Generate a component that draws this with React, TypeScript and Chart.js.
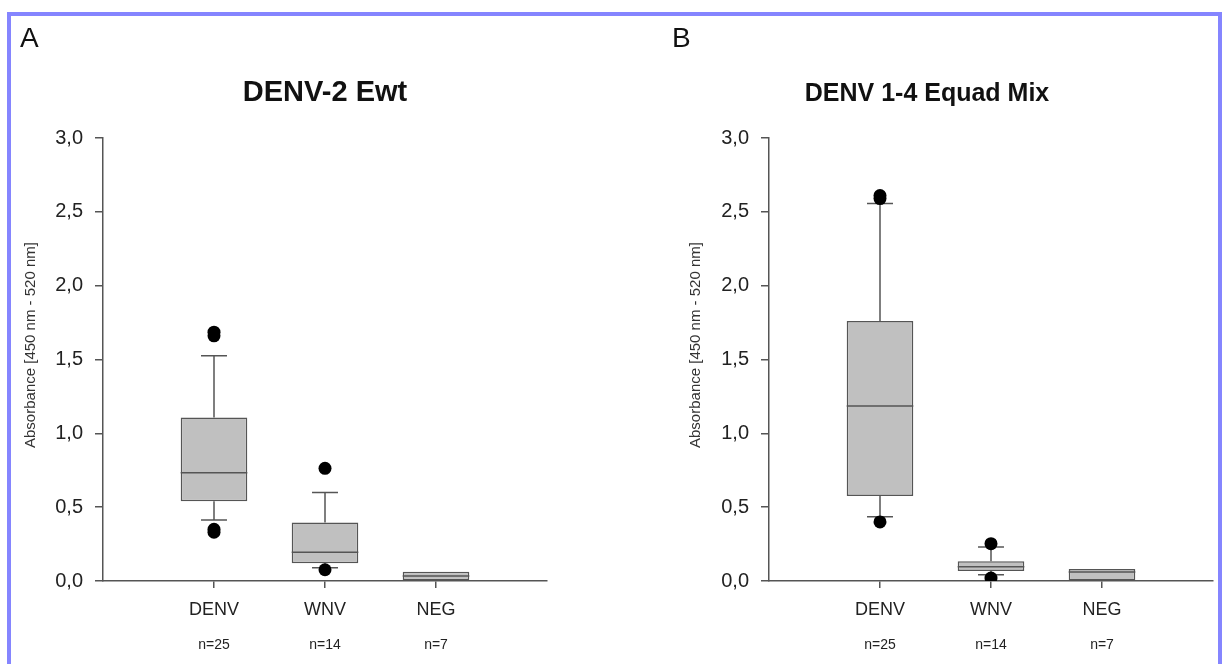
import React, { useEffect, useRef } from "react";
import { Chart, registerables } from "chart.js";

Chart.register(...registerables);

// ---------- shared ----------
const categories = ["DENV", "WNV", "NEG"];
const sampleSizes = ["n=25", "n=14", "n=7"];
const yAxisTitle = "Absorbance [450 nm - 520 nm]";
const yMin = 0;
const yMax = 3;
const yStep = 0.5;

// ---------- panel A ----------
const aLetter = "A";
const aTitle = "DENV-2 Ewt";
const aQ1 = [0.54, 0.12, 0.005];
const aMedian = [0.733, 0.194, 0.034];
const aQ3 = [1.108, 0.397, 0.063];
const aWhiskerLow = [0.413, 0.09, null];
const aWhiskerHigh = [1.525, 0.6, null];
const aOutliers = [[1.66, 1.685, 0.33, 0.35], [0.763, 0.076], []];

// ---------- panel B ----------
const bLetter = "B";
const bTitle = "DENV 1-4 Equad Mix";
const bQ1 = [0.575, 0.068, 0.003];
const bMedian = [1.185, 0.097, 0.061];
const bQ3 = [1.76, 0.133, 0.081];
const bWhiskerLow = [0.435, 0.043, null];
const bWhiskerHigh = [2.557, 0.23, null];
const bOutliers = [[2.59, 2.61, 0.4], [0.253, 0.02], []];

const FONT = "'Liberation Sans', Arial, sans-serif";
const LINE = "#555555";
const TEXT = "#222222";

type Panel = {
  letter: string;
  title: string;
  q1: number[];
  median: number[];
  q3: number[];
  wLow: (number | null)[];
  wHigh: (number | null)[];
  outliers: number[][];
  padLeft: number;
  padRight: number;
  letterX: number;
  titleX: number;
  titleSize: number;
  yTitleX: number;
};

const panels: Panel[] = [
  {
    letter: aLetter, title: aTitle, q1: aQ1, median: aMedian, q3: aQ3,
    wLow: aWhiskerLow, wHigh: aWhiskerHigh, outliers: aOutliers,
    padLeft: 23, padRight: 678, letterX: 20, titleX: 325, titleSize: 29, yTitleX: 31,
  },
  {
    letter: bLetter, title: bTitle, q1: bQ1, median: bMedian, q3: bQ3,
    wLow: bWhiskerLow, wHigh: bWhiskerHigh, outliers: bOutliers,
    padLeft: 689, padRight: 12, letterX: 672, titleX: 927, titleSize: 25, yTitleX: 696,
  },
];

const BOX_HALF = 0.3;
const CAP_HALF = 0.117;

function makePlugin(p: Panel) {
  return {
    id: "boxExtras",
    beforeDatasetsDraw(chart: any) {
      const { ctx } = chart;
      const x = chart.scales.x;
      const y = chart.scales.y;
      ctx.save();
      ctx.strokeStyle = LINE;
      ctx.lineWidth = 1.5;
      p.q1.forEach((q1, i) => {
        const cx = x.getPixelForValue(i + 1);
        const cl = x.getPixelForValue(i + 1 - CAP_HALF);
        const cr = x.getPixelForValue(i + 1 + CAP_HALF);
        const hi = p.wHigh[i];
        const lo = p.wLow[i];
        if (hi != null) {
          ctx.beginPath();
          ctx.moveTo(cx, y.getPixelForValue(p.q3[i]));
          ctx.lineTo(cx, y.getPixelForValue(hi));
          ctx.moveTo(cl, y.getPixelForValue(hi));
          ctx.lineTo(cr, y.getPixelForValue(hi));
          ctx.stroke();
        }
        if (lo != null) {
          ctx.beginPath();
          ctx.moveTo(cx, y.getPixelForValue(q1));
          ctx.lineTo(cx, y.getPixelForValue(lo));
          ctx.moveTo(cl, y.getPixelForValue(lo));
          ctx.lineTo(cr, y.getPixelForValue(lo));
          ctx.stroke();
        }
      });
      ctx.restore();
    },
    afterDatasetsDraw(chart: any) {
      const { ctx } = chart;
      const x = chart.scales.x;
      const y = chart.scales.y;
      ctx.save();
      ctx.strokeStyle = LINE;
      ctx.lineWidth = 1.5;
      p.median.forEach((m, i) => {
        const l = x.getPixelForValue(i + 1 - BOX_HALF);
        const r = x.getPixelForValue(i + 1 + BOX_HALF);
        const py = y.getPixelForValue(m);
        ctx.beginPath();
        ctx.moveTo(l, py);
        ctx.lineTo(r, py);
        ctx.stroke();
      });
      ctx.restore();
    },
    afterDraw(chart: any) {
      const { ctx } = chart;
      const x = chart.scales.x;
      ctx.save();
      ctx.fillStyle = "#111";
      ctx.textBaseline = "alphabetic";
      ctx.textAlign = "left";
      ctx.font = `28px ${FONT}`;
      ctx.fillText(p.letter, p.letterX, 46.5);
      ctx.textAlign = "center";
      ctx.font = `bold ${p.titleSize}px ${FONT}`;
      ctx.fillText(p.title, p.titleX, 101);
      ctx.fillStyle = TEXT;
      ctx.font = `14px ${FONT}`;
      ctx.textBaseline = "middle";
      sampleSizes.forEach((s, i) => {
        ctx.fillText(s, x.getPixelForValue(i + 1), 645);
      });
      ctx.translate(p.yTitleX, 345);
      ctx.rotate(-Math.PI / 2);
      ctx.fillStyle = "#333";
      ctx.font = `15px ${FONT}`;
      ctx.fillText(yAxisTitle, 0, 0);
      ctx.restore();
    },
  };
}

function PanelChart({ p }: { p: Panel }) {
  const ref = useRef<HTMLCanvasElement>(null);
  useEffect(() => {
    if (!ref.current) return;
    const boxData = p.q1.map((q1, i) => ({ x: i + 1, y: [q1, p.q3[i]] }));
    const outlierData: { x: number; y: number }[] = [];
    p.outliers.forEach((arr, i) => arr.forEach((v) => outlierData.push({ x: i + 1, y: v })));
    const chart = new Chart(ref.current, {
      type: "bar",
      data: {
        datasets: [
          {
            type: "scatter",
            data: outlierData,
            backgroundColor: "#000",
            borderWidth: 0,
            pointRadius: 6.5,
            order: 0,
          } as any,
          {
            type: "bar",
            data: boxData as any,
            backgroundColor: "#c0c0c0",
            borderColor: LINE,
            borderWidth: 1.5,
            borderSkipped: false,
            barPercentage: 0.6,
            categoryPercentage: 1,
            order: 1,
          } as any,
        ],
      },
      options: {
        responsive: false,
        animation: false,
        events: [],
        layout: { padding: { left: p.padLeft, right: p.padRight, top: 138, bottom: 0 } },
        plugins: { legend: { display: false }, tooltip: { enabled: false }, title: { display: false } },
        scales: {
          x: {
            type: "linear",
            min: 0,
            max: 4,
            offset: false,
            afterBuildTicks: (axis: any) => {
              axis.ticks = categories.map((_, i) => ({ value: i + 1 }));
            },
            afterFit: (axis: any) => {
              axis.height = 83;
            },
            grid: {
              display: true,
              offset: false,
              drawOnChartArea: false,
              drawTicks: true,
              tickLength: 7,
              color: LINE,
              lineWidth: 1.5,
            },
            border: { display: true, color: LINE, width: 1.5 },
            ticks: {
              padding: 11,
              color: TEXT,
              font: { family: FONT, size: 18 },
              maxRotation: 0,
              autoSkip: false,
              callback: (v: any) => categories[Number(v) - 1] ?? "",
            },
          },
          y: {
            type: "linear",
            min: yMin,
            max: yMax,
            afterFit: (axis: any) => {
              axis.width = 80;
            },
            grid: { display: true, drawOnChartArea: false, drawTicks: true, tickLength: 8, color: LINE, lineWidth: 1.5 },
            border: { display: true, color: LINE, width: 1.5 },
            ticks: {
              stepSize: yStep,
              padding: 12,
              color: TEXT,
              font: { family: FONT, size: 20 },
              callback: (v: any) => Number(v).toFixed(1).replace(".", ","),
            },
          },
        },
      } as any,
      plugins: [makePlugin(p)],
    });
    return () => chart.destroy();
  }, [p]);
  return (
    <canvas
      ref={ref}
      width={1225}
      height={664}
      style={{ position: "absolute", left: 0, top: 0, width: 1225, height: 664 }}
    />
  );
}

export default function App() {
  return (
    <div
      style={{
        position: "absolute",
        left: 0,
        top: 0,
        width: 1225,
        height: 664,
        overflow: "hidden",
        background: "#fff",
      }}
    >
      <div
        style={{
          position: "absolute",
          left: 7,
          top: 12,
          width: 1207,
          height: 720,
          border: "4px solid #8585ff",
        }}
      />
      {panels.map((p, i) => (
        <PanelChart key={i} p={p} />
      ))}
    </div>
  );
}
